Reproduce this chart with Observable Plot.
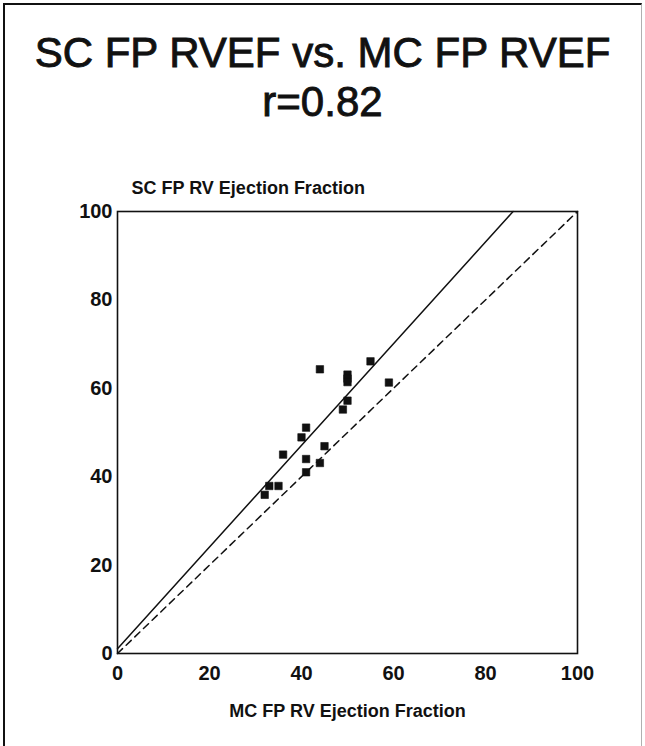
<!DOCTYPE html>
<html><head><meta charset="utf-8">
<script src="https://cdn.jsdelivr.net/npm/d3@7"></script>
<script src="https://cdn.jsdelivr.net/npm/@observablehq/plot@0.6"></script>
<style>
body{margin:0;background:#fff;}
#fig{position:relative;width:645px;height:746px;overflow:hidden;font-family:"Liberation Sans",Arial,sans-serif;color:#111;}
#frame{position:absolute;left:3px;top:3px;width:636px;height:780px;border-left:2px solid #111;border-top:2px solid #111;border-right:1.5px solid #b0b0b0;}
#title{position:absolute;left:0;width:645px;top:28px;text-align:center;font-size:42px;font-weight:normal;line-height:49px;-webkit-text-stroke:0.9px #111;}
#chart{position:absolute;left:0;top:150px;}
</style></head><body>
<div id="fig"><div id="frame"></div><div id="title">SC FP RVEF vs. MC FP RVEF<br>r=0.82</div><div id="chart"></div></div>
<script>
// MC FP RV ejection fraction (x) and SC FP RV ejection fraction (y)
const mcEF = [44, 55, 50, 50, 50, 59, 50, 49, 41, 40, 45, 36, 41, 44, 41, 33, 35, 32];
const scEF = [64.3, 66.1, 63.1, 62.2, 61.4, 61.3, 57.2, 55.2, 51.1, 48.9, 46.9, 45.0, 44.0, 43.1, 41.0, 37.9, 37.9, 35.9];
// regression line end points and line of identity
const fitX = [0, 86.0];
const fitY = [1.1, 100];
const identX = [0, 100];
const identY = [0, 100];
const ticks = [0, 20, 40, 60, 80, 100];
const xLabel = "MC FP RV Ejection Fraction";
const yLabel = "SC FP RV Ejection Fraction";

const pts = mcEF.map((x, i) => ({x, y: scEF[i]}));
const fit = fitX.map((x, i) => ({x, y: fitY[i]}));
const ident = identX.map((x, i) => ({x, y: identY[i]}));

const chart = Plot.plot({
  width: 645, height: 596,
  marginLeft: 117, marginRight: 68, marginTop: 61, marginBottom: 93,
  style: {fontFamily: '"Liberation Sans", Arial, sans-serif', fontSize: "20px", fontWeight: "bold", color: "#111", background: "transparent"},
  x: {domain: [0, 100], ticks, tickSize: 0, tickPadding: 12, label: null},
  y: {domain: [0, 100], ticks, tickSize: 0, tickPadding: 5, label: null},
  marks: [
    Plot.frame({stroke: "#111", strokeWidth: 1.6}),
    Plot.line(ident, {x: "x", y: "y", stroke: "#111", strokeWidth: 1.5, strokeDasharray: "7,5"}),
    Plot.line(fit, {x: "x", y: "y", stroke: "#111", strokeWidth: 1.5}),
    Plot.dot(pts, {x: "x", y: "y", symbol: "square", r: 4.2, fill: "#111", stroke: "#111", strokeWidth: 0.6, strokeLinejoin: "round"}),
    Plot.text([xLabel], {text: d => d, frameAnchor: "bottom", dy: 63, fontSize: 18, fontWeight: "bold", fill: "#111"}),
    Plot.text([yLabel], {text: d => d, frameAnchor: "top-left", textAnchor: "start", dx: 14, dy: -30, fontSize: 18, fontWeight: "bold", fill: "#111"})
  ]
});
document.getElementById("chart").appendChild(chart);
</script>
</body></html>
